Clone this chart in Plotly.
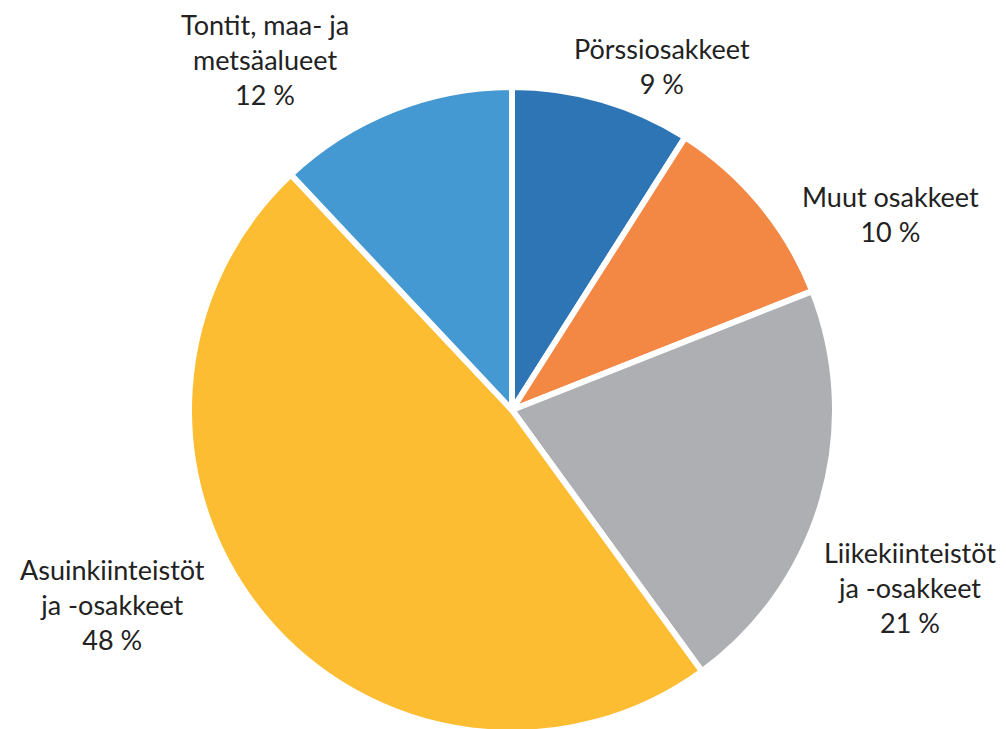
import plotly.graph_objects as go

labels = ["Pörssiosakkeet", "Muut osakkeet", "Liikekiinteistöt ja -osakkeet",
          "Asuinkiinteistöt ja -osakkeet", "Tontit, maa- ja metsäalueet"]
label_text = ["Pörssiosakkeet<br>9 %", "Muut osakkeet<br>10 %",
              "Liikekiinteistöt<br>ja -osakkeet<br>21 %",
              "Asuinkiinteistöt<br>ja -osakkeet<br>48 %",
              "Tontit, maa- ja<br>metsäalueet<br>12 %"]
values = [9, 10, 21, 48, 12]
colors = ["#2E75B6", "#F38744", "#AEAFB3", "#FDBD33", "#4499D3"]

W, H = 1006, 729
OFF = 8  # page body margin
cx, cy, r = 512 - OFF, 410 - OFF, 323
fig = go.Figure(go.Pie(
    labels=labels, values=values, sort=False, direction="clockwise", rotation=0,
    marker=dict(colors=colors, line=dict(color="white", width=6)),
    textinfo="none", hoverinfo="label+percent", showlegend=False,
    domain=dict(x=[(cx - r) / W, (cx + r) / W], y=[1 - (cy + r) / H, 1 - (cy - r) / H]),
))

# label anchor positions (pixels, page coords)
pos = [(662, 66), (890, 214), (910, 587), (112, 604), (265, 60)]
for t, (px, py) in zip(label_text, pos):
    fig.add_annotation(x=(px - OFF) / W, y=1 - (py - OFF) / H, xref="paper", yref="paper",
                       text=t, showarrow=False, xanchor="center", yanchor="middle",
                       font=dict(family="Lato", size=27, color="#222222"))

fig.update_layout(width=W, height=H, margin=dict(l=0, r=0, t=0, b=0),
                  paper_bgcolor="white", plot_bgcolor="white")
fig.write_html("out.html")
